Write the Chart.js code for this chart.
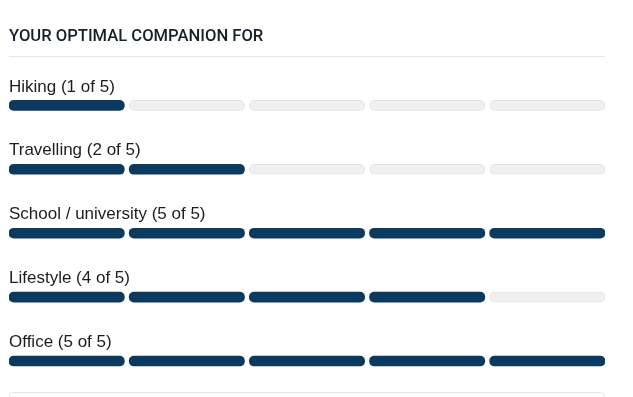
<!DOCTYPE html>
<html>
<head>
<meta charset="utf-8">
<script src="https://cdn.jsdelivr.net/npm/chart.js@4/dist/chart.umd.min.js"></script>
<style>
  html, body { margin: 0; padding: 0; background: #ffffff; }
  canvas { display: block; }
</style>
</head>
<body>
<canvas id="c" width="633" height="397"></canvas>
<script>
// ---- data ----
const titleText = 'YOUR OPTIMAL COMPANION FOR';
const categories = ['Hiking', 'Travelling', 'School / university', 'Lifestyle', 'Office'];
const ratings = [1, 2, 5, 4, 5];
const maxRating = 5;
const tickLabels = ['Hiking (1 of 5)', 'Travelling (2 of 5)', 'School / university (5 of 5)', 'Lifestyle (4 of 5)', 'Office (5 of 5)'];

// ---- style ----
const FILLED = '#0c3a5f';
const EMPTY = '#f0f0f0';
const EMPTY_BORDER = '#e3e3e3';
const GAP = 0.02;

const datasets = [];
for (let s = 0; s < maxRating; s++) {
  datasets.push({
    label: 'Segment ' + (s + 1),
    data: categories.map(() => [s + GAP, s + 1 - GAP]),
    backgroundColor: ratings.map(r => s < r ? FILLED : EMPTY),
    borderColor: ratings.map(r => s < r ? FILLED : EMPTY_BORDER),
    borderWidth: ratings.map(r => s < r ? 0 : 1),
    borderRadius: 5,
    borderSkipped: false,
    barThickness: 10,
    grouped: false
  });
}

const decorations = {
  id: 'decorations',
  beforeDraw(chart) {
    const ctx = chart.ctx;
    const a = chart.chartArea;
    ctx.save();
    // separator under title
    ctx.strokeStyle = '#e6e6e6';
    ctx.lineWidth = 1;
    ctx.beginPath();
    ctx.moveTo(a.left, 56.5);
    ctx.lineTo(a.right, 56.5);
    ctx.stroke();
    // bottom box outline
    ctx.strokeStyle = '#e2e2e2';
    const x0 = a.left + 0.5, x1 = a.right - 0.5, y0 = 392.5, r = 4;
    ctx.beginPath();
    ctx.moveTo(x0, chart.height + 2);
    ctx.lineTo(x0, y0 + r);
    ctx.arcTo(x0, y0, x0 + r, y0, r);
    ctx.lineTo(x1 - r, y0);
    ctx.arcTo(x1, y0, x1, y0 + r, r);
    ctx.lineTo(x1, chart.height + 2);
    ctx.stroke();
    ctx.restore();
  }
};

new Chart(document.getElementById('c'), {
  type: 'bar',
  data: { labels: tickLabels, datasets },
  options: {
    indexAxis: 'y',
    responsive: false,
    animation: false,
    devicePixelRatio: 1,
    layout: { padding: { left: 9, right: 28, top: 0, bottom: 4 } },
    plugins: {
      legend: { display: false },
      tooltip: { enabled: false },
      title: {
        display: true,
        text: titleText,
        align: 'start',
        color: '#16212c',
        font: { family: 'Roboto', size: 16.6, weight: '500' },
        padding: { top: 26.5, bottom: 27 }
      }
    },
    scales: {
      x: {
        type: 'linear',
        min: GAP,
        max: maxRating - GAP,
        display: false
      },
      y: {
        type: 'category',
        offset: true,
        grid: { display: false, drawTicks: false },
        border: { display: false },
        ticks: {
          mirror: true,
          padding: 0,
          labelOffset: -18.5,
          color: '#1d1d1d',
          font: { family: "'Liberation Sans', Arial, sans-serif", size: 17 }
        },
        afterFit(scale) { scale.paddingTop = 0; scale.paddingBottom = 0; }
      }
    }
  },
  plugins: [decorations]
});
</script>
</body>
</html>
